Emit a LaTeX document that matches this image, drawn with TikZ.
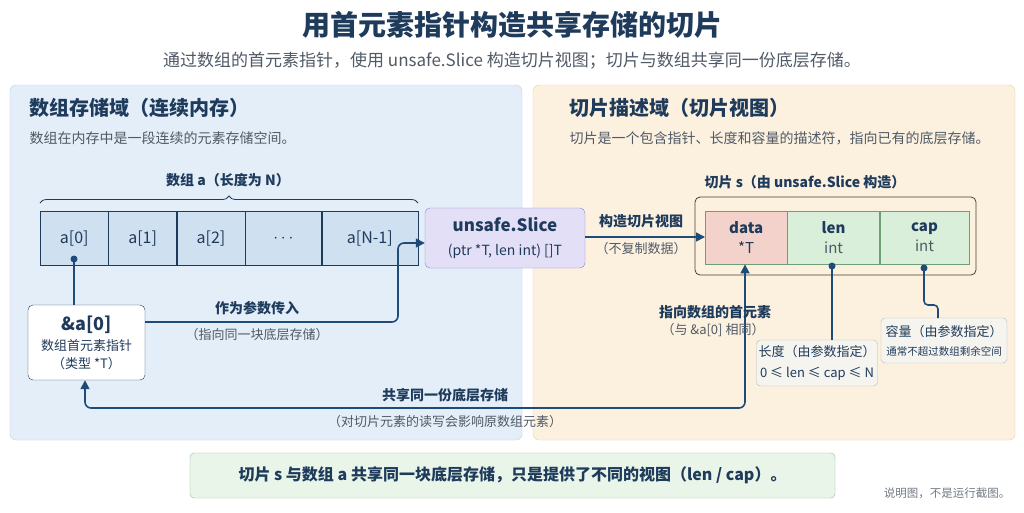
\documentclass[tikz,border=0pt]{standalone}
\usepackage{fontspec}
\setmainfont{Noto Sans CJK SC}
\usetikzlibrary{arrows.meta,positioning,calc,decorations.pathreplacing}
\definecolor{navy}{HTML}{1F3B5C}
\definecolor{grayt}{HTML}{505A66}
\definecolor{bluebg}{HTML}{E3EEF9}
\definecolor{bluebd}{HTML}{BCD3EC}
\definecolor{orabg}{HTML}{FCF0DF}
\definecolor{orabd}{HTML}{EBD3B0}
\definecolor{cellb}{HTML}{CFE0F1}
\definecolor{lav}{HTML}{E3DFF7}
\definecolor{lavbd}{HTML}{8C84CC}
\definecolor{pinkc}{HTML}{F3D2CB}
\definecolor{greenc}{HTML}{D9EFD9}
\definecolor{greenbd}{HTML}{6E9E76}
\definecolor{notebg}{HTML}{F6F4EF}
\definecolor{notebd}{HTML}{B9B9B4}
\definecolor{linkc}{HTML}{1E4C7A}
\tikzstyle{cell}=[draw=navy,fill=cellb,minimum height=54pt,inner sep=0pt,font=\fontsize{16}{16}\selectfont,text=navy]
\tikzstyle{fld}=[draw=greenbd,fill=greenc,minimum height=53pt,inner sep=0pt,align=center,text=navy,font=\fontsize{15}{20}\selectfont]
\tikzstyle{note}=[draw=notebd,fill=notebg,rounded corners=4pt,align=center,text=navy,inner sep=5pt]
\tikzstyle{bold}=[font=\bfseries\fontsize{14}{14}\selectfont,text=navy]
\tikzstyle{sub}=[font=\fontsize{13}{13}\selectfont,text=grayt]
\begin{document}
\begin{tikzpicture}[x=1pt,y=-1pt,link/.style={draw=linkc,line width=1.6pt,rounded corners=6pt},
  tip/.style={-{Triangle[length=9pt,width=9pt]}}]
\useasboundingbox (0,0) rectangle (1024,512);
\fill[white] (0,0) rectangle (1024,512);
% title
\node[font=\bfseries\fontsize{28}{28}\selectfont,text=navy] (title) at (512,25) {用首元素指针构造共享存储的切片};
\node[font=\fontsize{17}{17}\selectfont,text=grayt] (subtitle) at (512,61) {通过数组的首元素指针，使用 unsafe.Slice 构造切片视图；切片与数组共享同一份底层存储。};
% panels
\draw[bluebd,fill=bluebg,rounded corners=6pt] (10,85) rectangle (522,440);
\draw[orabd,fill=orabg,rounded corners=6pt] (533,85) rectangle (1015,440);
\node[anchor=west,font=\bfseries\fontsize{20}{20}\selectfont,text=navy] (lt) at (26,108) {数组存储域（连续内存）};
\node[anchor=west,sub,font=\fontsize{14}{14}\selectfont] (ls) at (26,138) {数组在内存中是一段连续的元素存储空间。};
\node[anchor=west,font=\bfseries\fontsize{20}{20}\selectfont,text=navy] (rt) at (566,108) {切片描述域（切片视图）};
\node[anchor=west,sub,font=\fontsize{14}{14}\selectfont] (rs) at (566,138) {切片是一个包含指针、长度和容量的描述符，指向已有的底层存储。};
% array cells
\node[cell,minimum width=68pt,anchor=north west] (a0) at (40,211) {a[0]};
\node[cell,minimum width=68pt,right=0pt of a0] (a1) {a[1]};
\node[cell,minimum width=68pt,right=0pt of a1] (a2) {a[2]};
\node[cell,minimum width=76pt,right=0pt of a2] (ad) {$\cdots$};
\node[cell,minimum width=96pt,right=0pt of ad] (an) {a[N-1]};
\draw[navy,line width=0.8pt,decorate,decoration={brace,amplitude=7pt}] ([yshift=8pt]a0.north west) -- ([yshift=8pt]an.north east);
\node[bold] (alabel) at (228,180) {数组 a（长度为 N）};
% pointer box
\node[draw=navy,fill=white,rounded corners=5pt,align=center,minimum width=117pt,minimum height=75pt,inner sep=2pt,text=navy,font=\fontsize{13}{18}\selectfont] (p) at (86.5,342.5)
  {{\bfseries\fontsize{18}{20}\selectfont \&a[0]}\\[2pt]数组首元素指针\\（类型 *T）};
\fill[linkc] (74,259) circle (3.5pt) coordinate (d0);
\draw[link] (d0) -- (d0|-p.north);
% unsafe.Slice
\node[draw=lavbd,fill=lav,rounded corners=5pt,align=center,minimum width=160pt,minimum height=60pt,inner sep=2pt,text=navy,font=\fontsize{14}{24}\selectfont] (us) at (505,238)
  {{\bfseries\fontsize{17}{21}\selectfont unsafe.Slice}\\(ptr *T, len int) []T};
\draw[link,tip] (p.east|-0,322) -- (398,322) -- (398,243) -- (us.west|-0,243);
\node[bold] (pass) at (257,308) {作为参数传入};
\node[sub] (passs) at (257,335) {（指向同一块底层存储）};
% slice header
\draw[draw=navy!60!orange!70!black,rounded corners=5pt,line width=0.8pt] (695,197) rectangle (976,275);
\node[bold] (slabel) at (805,182) {切片 s（由 unsafe.Slice 构造）};
\node[fld,fill=pinkc,draw=greenbd,minimum width=82pt,anchor=north west] (fd) at (705,211) {{\bfseries data}\\*T};
\node[fld,minimum width=92pt,right=0pt of fd] (fl) {{\bfseries len}\\{\color{grayt}int}};
\node[fld,minimum width=89pt,right=0pt of fl] (fc) {{\bfseries cap}\\{\color{grayt}int}};
\draw[link,tip] (us.east|-0,237) -- (fd.west|-0,237);
\node[bold] (mk) at (641,221) {构造切片视图};
\node[sub] (mks) at (641,249) {（不复制数据）};
% shared storage
\draw[link,{Triangle[length=9pt,width=9pt]}-{Triangle[length=9pt,width=9pt]}] (p.south-|85,0) -- (85,408) -- (745,408) -- (fd.south-|745,0);
\node[bold] (sh) at (445,395) {共享同一份底层存储};
\node[sub] (shs) at (445,422) {（对切片元素的读写会影响原数组元素）};
\node[bold] (fe) at (715,312) {指向数组的首元素};
\node[sub] (fes) at (713,330) {（与 \&a[0] 相同）};
% len / cap notes
\node[note,minimum width=120pt,minimum height=46pt,inner sep=2pt,font=\fontsize{13}{21}\selectfont] (nl) at (817,363)
  {长度（由参数指定）\\0 ≤ len ≤ cap ≤ N};
\node[note,minimum width=126pt,minimum height=45pt,inner sep=2pt,font=\fontsize{13}{19}\selectfont] (nc) at (944,340.5)
  {容量（由参数指定）\\{\fontsize{10.5}{14}\selectfont 通常不超过数组剩余空间}};
\fill[linkc] (832,266) circle (3.5pt) coordinate (dl);
\fill[linkc] (924,268) circle (3.5pt) coordinate (dc);
\draw[link] (dl) -- (dl|-nl.north);
\draw[link,rounded corners=4pt] (dc) -- (924,305) -- (938,305) -- (938,318);
% summary
\node[draw=greenbd!70,fill=greenc!60,rounded corners=4pt,minimum width=645pt,minimum height=45pt,font=\bfseries\fontsize{16}{16}\selectfont,text=navy] (sum) at (512.5,475.5)
  {切片 s 与数组 a 共享同一块底层存储，只是提供了不同的视图（len / cap）。};
\node[anchor=east,font=\fontsize{11.5}{11.5}\selectfont,text=grayt!80] (foot) at (1014,493) {说明图，不是运行截图。};
\end{tikzpicture}
\end{document}
